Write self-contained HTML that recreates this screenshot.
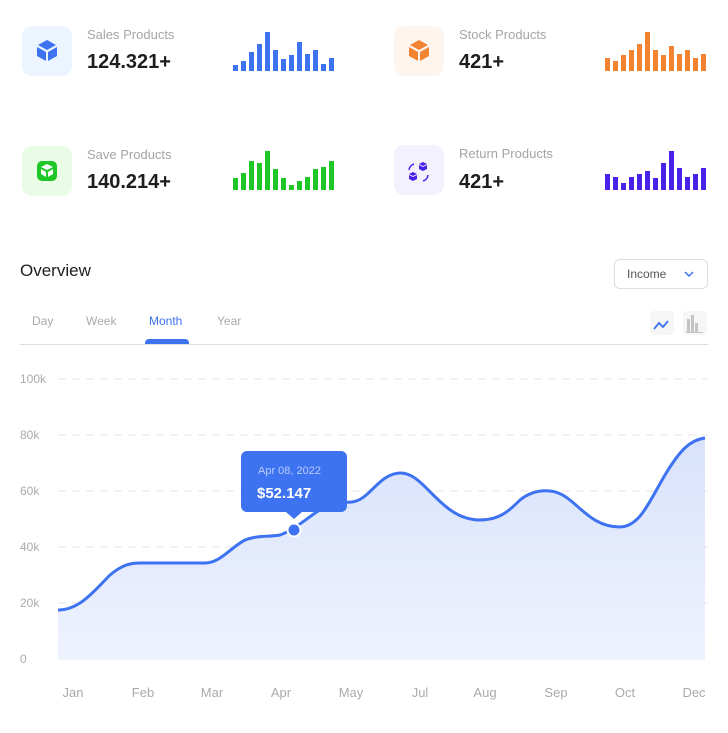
<!DOCTYPE html>
<html><head><meta charset="utf-8"><style>
body{margin:0;width:728px;height:733px;background:#fff;font-family:"Liberation Sans",sans-serif;position:relative;overflow:hidden}
.a{position:absolute}
.icon{width:50px;height:50px;border-radius:10px}
.lbl{font-size:13px;color:#a5a5a5}
.val{font-size:20px;font-weight:bold;color:#1e1e1e}
</style></head><body>
<div class="a icon" style="left:22px;top:26px;background:#ebf4ff"></div>
<div class="a icon" style="left:394px;top:26px;background:#fff5ef"></div>
<div class="a icon" style="left:22px;top:146px;background:#e9fce6"></div>
<div class="a icon" style="left:394px;top:145px;background:#f4f1ff"></div>
<svg class="a" style="left:0;top:0" width="728" height="210">
<g fill="#3d72f0"><path d="M38,45 l9,-5 9,5 -9,5z"/><path d="M37,47 l9,5 v9 l-9,-5z"/><path d="M57,47 l-9,5 v9 l9,-5z"/></g>
<g fill="#f28330"><path d="M410,45 l9,-5 9,5 -9,5z"/><path d="M409,47 l9,5 v9 l-9,-5z"/><path d="M429,47 l-9,5 v9 l9,-5z"/></g>
<rect x="37" y="161" width="20" height="20" rx="5" fill="#1ec626"/><g fill="#fff"><path d="M41,167 l6,-3 6,3 -6,3z"/><path d="M41,169 l5,3 v5 l-5,-3z"/><path d="M53,169 l-5,3 v5 l5,-3z"/></g>
<g fill="#4a21e8"><path d="M419,164 l4,-2 4,2 -4,2z M419,165 l4,2v4l-4,-2z M427,165l-4,2v4l4,-2z"/><path d="M409,174 l4,-2 4,2 -4,2z M409,175 l4,2v4l-4,-2z M417,175l-4,2v4l4,-2z"/></g>
<g fill="none" stroke="#4a21e8" stroke-width="1.5"><path d="M409,170 a7,7 0 0 1 5,-6"/><path d="M428,175 a7,7 0 0 1 -5,6"/></g>
</svg>
<div class="a lbl" style="left:87px;top:27px">Sales Products</div>
<div class="a val" style="left:87px;top:51px">124.321+</div>
<div class="a lbl" style="left:459px;top:27px">Stock Products</div>
<div class="a val" style="left:459px;top:51px">421+</div>
<div class="a lbl" style="left:87px;top:147px">Save Products</div>
<div class="a val" style="left:87px;top:171px">140.214+</div>
<div class="a lbl" style="left:459px;top:146px">Return Products</div>
<div class="a val" style="left:459px;top:171px">421+</div>
<svg class="a" style="left:0;top:0" width="728" height="200" id="bars"></svg>
<div class="a" style="left:20px;top:261px;font-size:17px;color:#1e1e1e">Overview</div>
<div class="a" style="left:614px;top:259px;width:92px;height:28px;border:1px solid #ddd;border-radius:6px"></div>
<div class="a" style="left:627px;top:267px;font-size:12px;color:#555">Income</div>
<svg class="a" style="left:684px;top:270px" width="10" height="8"><path d="M1,2 L5,6 L9,2" fill="none" stroke="#3d72f0" stroke-width="1.5"/></svg>
<div class="a" style="left:32px;top:314px;font-size:12px;color:#aaa">Day</div>
<div class="a" style="left:86px;top:314px;font-size:12px;color:#aaa">Week</div>
<div class="a" style="left:149px;top:314px;font-size:12px;color:#3d72f0">Month</div>
<div class="a" style="left:217px;top:314px;font-size:12px;color:#aaa">Year</div>
<div class="a" style="left:145px;top:339px;width:44px;height:5px;background:#3d72f0;border-radius:4px 4px 0 0"></div>
<div class="a" style="left:20px;top:344px;width:688px;height:1px;background:#ddd"></div>
<div class="a" style="left:650px;top:311px;width:24px;height:24px;background:#f6f6f6;border-radius:4px"></div>
<div class="a" style="left:683px;top:311px;width:24px;height:24px;background:#f6f6f6;border-radius:4px"></div>
<svg class="a" style="left:0;top:0" width="728" height="733">
<path d="M654,329 l5,-6 4,4 5,-6" fill="none" stroke="#3d72f0" stroke-width="1.8"/>
<g fill="#c4c4c4"><rect x="687" y="319" width="3" height="13"/><rect x="691" y="315" width="3" height="17"/><rect x="695" y="323" width="3" height="9"/><rect x="686" y="332" width="17" height="1"/></g>
<g stroke="#e4e4e4" stroke-dasharray="8,6"><line x1="58" y1="379" x2="708" y2="379"/><line x1="58" y1="435" x2="708" y2="435"/><line x1="58" y1="491" x2="708" y2="491"/><line x1="58" y1="547" x2="708" y2="547"/><line x1="58" y1="603" x2="708" y2="603"/></g>
<defs><linearGradient id="g" x1="0" y1="0" x2="0" y2="1"><stop offset="0" stop-color="#d8e2fb"/><stop offset="1" stop-color="#eff3fe"/></linearGradient></defs>
<path id="c" d="M58,610 C80,610 95,590 110,575 C122,565 130,563 140,563 L205,563 C220,563 230,548 245,540 C258,535 270,537 280,535 C300,528 320,505 335,503 L352,502 C370,500 378,474 400,473 C425,472 440,520 480,520 C500,520 510,510 520,500 C530,492 540,490 550,491 C575,493 585,527 620,527 C640,527 650,500 665,475 C680,450 690,440 705,438 L705,660 L58,660Z" fill="url(#g)"/>
<path d="M58,610 C80,610 95,590 110,575 C122,565 130,563 140,563 L205,563 C220,563 230,548 245,540 C258,535 270,537 280,535 C300,528 320,505 335,503 L352,502 C370,500 378,474 400,473 C425,472 440,520 480,520 C500,520 510,510 520,500 C530,492 540,490 550,491 C575,493 585,527 620,527 C640,527 650,500 665,475 C680,450 690,440 705,438" fill="none" stroke="#3d72f0" stroke-width="3"/>
<circle cx="294" cy="530" r="6.5" fill="#3d72f0" stroke="#fff" stroke-width="2"/>
<rect x="241" y="451" width="106" height="61" rx="6" fill="#3d72f0"/><path d="M286,512 l8,7 8,-7z" fill="#3d72f0"/>
<text x="258" y="474" font-size="11" fill="#b9cdfb" font-family="Liberation Sans">Apr 08, 2022</text>
<text x="257" y="498" font-size="15" font-weight="bold" fill="#fff" font-family="Liberation Sans">$52.147</text>
<g font-size="12" fill="#aaa" font-family="Liberation Sans"><text x="20" y="383">100k</text><text x="20" y="439">80k</text><text x="20" y="495">60k</text><text x="20" y="551">40k</text><text x="20" y="607">20k</text><text x="20" y="663">0</text></g>
<g font-size="13" fill="#aaa" font-family="Liberation Sans" text-anchor="middle"><text x="73" y="697">Jan</text><text x="143" y="697">Feb</text><text x="212" y="697">Mar</text><text x="281" y="697">Apr</text><text x="351" y="697">May</text><text x="420" y="697">Jul</text><text x="485" y="697">Aug</text><text x="556" y="697">Sep</text><text x="625" y="697">Oct</text><text x="694" y="697">Dec</text></g>
</svg>
<script>
var s=document.getElementById('bars'),h='';
function b(x0,bot,tops,col){tops.forEach(function(t,i){h+='<rect x="'+(x0+i*8)+'" y="'+t+'" width="5" height="'+(bot-t)+'" fill="'+col+'"/>';});}
b(233,71,[65,61,52,44,32,50,59,55,42,54,50,64,58],'#3d72f0');
b(605,71,[58,61,55,50,44,32,50,55,46,54,50,58,54],'#f28330');
b(233,190,[178,173,161,163,151,169,178,185,181,177,169,167,161],'#1ec626');
b(605,190,[174,177,183,177,174,171,178,163,151,168,177,174,168],'#4a21e8');
s.innerHTML=h;
</script>
</body></html>
